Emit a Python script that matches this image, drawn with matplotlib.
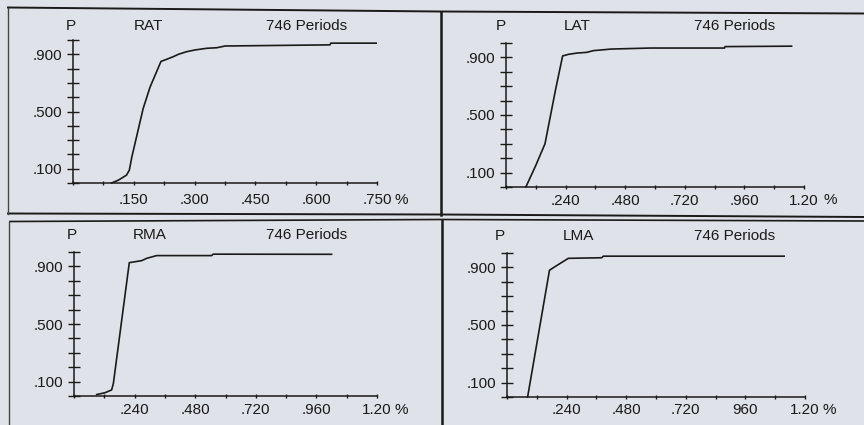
import matplotlib.pyplot as plt

plt.rcParams['font.family'] = ['Liberation Sans', 'DejaVu Sans']
plt.rcParams['font.size'] = 11

W, H = 864, 425
BG = '#dfe2e8'
INK = '#1a1a1a'

# cumulative curves
rat_x = [0.095, 0.112, 0.132, 0.139, 0.145, 0.173, 0.19, 0.217, 0.231, 0.247, 0.26, 0.28, 0.30, 0.33, 0.355, 0.375, 0.634, 0.636, 0.748]
rat_y = [0.0, 0.02, 0.055, 0.09, 0.18, 0.52, 0.67, 0.85, 0.865, 0.883, 0.90, 0.918, 0.93, 0.942, 0.946, 0.958, 0.966, 0.978, 0.978]

lat_x = [0.080, 0.120, 0.157, 0.200, 0.228, 0.251, 0.285, 0.325, 0.352, 0.425, 0.58, 0.88, 0.882, 1.15]
lat_y = [0.0, 0.15, 0.30, 0.68, 0.91, 0.921, 0.93, 0.935, 0.947, 0.958, 0.965, 0.965, 0.975, 0.978]

rma_x = [0.090, 0.123, 0.149, 0.156, 0.219, 0.268, 0.288, 0.327, 0.545, 0.551, 1.02]
rma_y = [0.01, 0.023, 0.042, 0.088, 0.926, 0.94, 0.956, 0.975, 0.975, 0.985, 0.984]

lma_x = [0.083, 0.171, 0.193, 0.247, 0.381, 0.388, 1.116]
lma_y = [0.0, 0.88, 0.905, 0.963, 0.967, 0.978, 0.978]

# axis ticks and labels
rat_xmax = 0.75
rat_xstep = 0.075
rat_xticks = [0.15, 0.30, 0.45, 0.60, 0.75]
rat_xlabels = ['.150', '.300', '.450', '.600', '.750']

big_xmax = 1.2
big_xstep = 0.12
big_xticks = [0.24, 0.48, 0.72, 0.96, 1.2]
big_xlabels = ['.240', '.480', '.720', '.960', '1.20']
lma_xlabels = ['.240', '.480', '.720', '960', '1.20']

yticks = [0.1, 0.5, 0.9]
ylabels = ['.100', '.500', '.900']
yminor = [0.0, 0.2, 0.3, 0.4, 0.6, 0.7, 0.8, 1.0]

names = ['RAT', 'LAT', 'RMA', 'LMA']
periods = '746 Periods'

curves = [(rat_x, rat_y), (lat_x, lat_y), (rma_x, rma_y), (lma_x, lma_y)]
xmaxes = [rat_xmax, big_xmax, big_xmax, big_xmax]
xsteps = [rat_xstep, big_xstep, big_xstep, big_xstep]
xticks = [rat_xticks, big_xticks, big_xticks, big_xticks]
xlabels = [rat_xlabels, big_xlabels, big_xlabels, lma_xlabels]

# layout in pixels: axes box (left, right, top, bottom) and text centres
boxes = [(73, 377, 40, 183), (506, 804, 43, 187), (74, 377, 252, 396), (507, 805, 253, 397)]
xpads = [5.8, 3.4, 3.6, 2.9]
p_pos = [(71, 24), (501, 24), (72, 234), (500, 235)]
name_pos = [(148, 24), (577, 24), (150, 234), (578, 235)]
per_pos = [(307, 24), (735, 24), (307, 234), (735, 235)]
pct_pos = [(401, 199), (830, 199), (401, 409), (829, 409)]
CAP = 5.5  # half cap height in px, centre -> baseline


def fx(x):
    return x / W


def fy(y):
    return 1 - y / H


def label(pos, s):
    fig.text(fx(pos[0]), fy(pos[1] + CAP), s, ha='center', va='baseline', color=INK)


fig = plt.figure(figsize=(W / 100, H / 100), dpi=100, facecolor=BG)

# panel frames (scan is slightly tilted)
frame = fig.add_axes([0, 0, 1, 1])
frame.set_xlim(0, W)
frame.set_ylim(H, 0)
frame.axis('off')
frame.plot([8, 440, 864], [7.5, 11.5, 13.5], color=INK, lw=1.4)
frame.plot([8, 440, 864], [213.5, 214.5, 217], color=INK, lw=1.4)
frame.plot([10, 440, 864], [221.5, 219.5, 221], color=INK, lw=1.2)
frame.plot([8, 8], [7.5, 213.5], color='#444444', lw=1.0)
frame.plot([9, 9], [221.5, 425], color='#444444', lw=1.0)
frame.plot([441, 441], [11.5, 214.5], color=INK, lw=1.8)
frame.plot([441.5, 441.5], [219.5, 425], color=INK, lw=1.8)

for i in range(4):
    l, r, t, b = boxes[i]
    ax = fig.add_axes([fx(l), fy(b), (r - l) / W, (b - t) / H])
    ax.patch.set_visible(False)
    xs, ys = curves[i]
    ax.plot(xs, ys, color=INK, lw=1.2, clip_on=False)
    ax.set_xlim(0, xmaxes[i])
    ax.set_ylim(0, 1.0)
    for s in ['top', 'right']:
        ax.spines[s].set_visible(False)
    for s in ['left', 'bottom']:
        ax.spines[s].set_color(INK)
        ax.spines[s].set_linewidth(1.1)

    n = int(round(xmaxes[i] / xsteps[i]))
    minor_x = [k * xsteps[i] for k in range(n + 1)]
    minor_x = [v for v in minor_x if min(abs(v - m) for m in xticks[i]) > 1e-6]
    ax.set_xticks(xticks[i])
    ax.set_xticklabels(xlabels[i])
    ax.set_xticks(minor_x, minor=True)
    ax.set_yticks(yticks)
    ax.set_yticklabels(ylabels)
    ax.set_yticks(yminor, minor=True)
    ax.tick_params(axis='x', which='both', direction='inout', length=3.4, width=1.0,
                   color=INK, pad=xpads[i], labelcolor=INK)
    ax.tick_params(axis='y', which='both', direction='inout', length=8, width=1.0,
                   color=INK, pad=3.9, labelcolor=INK)

    label(p_pos[i], 'P')
    label(name_pos[i], names[i])
    label(per_pos[i], periods)
    label(pct_pos[i], '%')

fig.savefig('out.png', dpi=100, facecolor=BG)
